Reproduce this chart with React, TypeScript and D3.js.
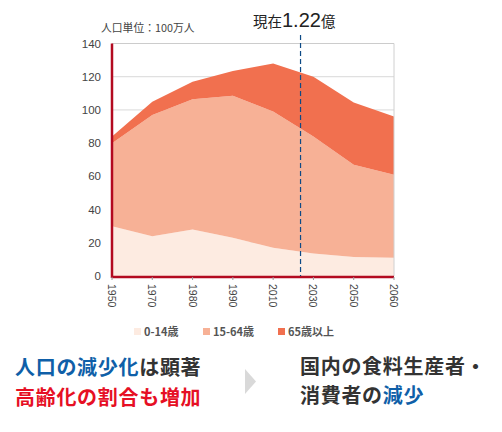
import React from 'react';
import * as d3 from 'd3';

const years = ['1950', '1970', '1980', '1990', '2010', '2030', '2050', '2060'];
const young = [30, 24, 28, 23, 17, 13.5, 11.5, 11];
const working = [50, 73, 78.5, 85.5, 82, 70.5, 55.5, 50];
const old = [4, 8, 10.5, 15, 29, 36, 37.5, 35];
const yTicks = [0, 20, 40, 60, 80, 100, 120, 140];
const seriesKeys = ['young', 'working', 'old'];
const seriesLabels = ['0-14歳', '15-64歳', '65歳以上'];
const seriesColors = ['#fdebe1', '#f7b196', '#f1704f'];
const nowPosition = 4.68; // between 2010 and 2030

const W = 502;
const H = 432;
const margin = { top: 43.5, right: 108, bottom: 156, left: 112 };
const latin = '"Liberation Sans", Arial, sans-serif';
const jp = '"Noto Sans CJK JP", sans-serif';

export default function App() {
  const x = d3.scalePoint<string>().domain(years).range([margin.left, W - margin.right]);
  const xIndex = d3.scaleLinear().domain([0, years.length - 1]).range([margin.left, W - margin.right]);
  const y = d3.scaleLinear().domain([0, 140]).range([H - margin.bottom, margin.top]);

  const rows = years.map((year, i) => ({ year, young: young[i], working: working[i], old: old[i] }));
  const stacked = d3.stack<any>().keys(seriesKeys)(rows);
  const area = d3.area<any>()
    .x(d => x(d.data.year)!)
    .y0(d => y(d[0]))
    .y1(d => y(d[1]));

  const x0 = margin.left;
  const x1 = W - margin.right;
  const y0 = H - margin.bottom;
  const nowX = xIndex(nowPosition);

  const legendX = [134, 203, 278];

  return (
    <svg width={W} height={H} style={{ position: 'absolute', left: 0, top: 0, background: '#fff' }}>
      {yTicks.map(t => (
        <line key={t} x1={x0} x2={x1} y1={y(t)} y2={y(t)} stroke="#d9d9d9" strokeWidth={1} />
      ))}
      {stacked.map((s, i) => (
        <path key={s.key} d={area(s) ?? ''} fill={seriesColors[i]} />
      ))}
      <line x1={x1} x2={x1} y1={margin.top} y2={y0} stroke="#d0d0d0" strokeWidth={1} />
      <line x1={x0} x2={x1} y1={margin.top} y2={margin.top} stroke="#cccccc" strokeWidth={1} />

      {/* red axes */}
      <line x1={x0} x2={x0} y1={margin.top} y2={y0 + 2} stroke="#b30a20" strokeWidth={2.5} />
      <line x1={x0} x2={x1} y1={y0 + 1} y2={y0 + 1} stroke="#b30a20" strokeWidth={2.5} />

      {yTicks.map(t => (
        <text key={t} x={101} y={y(t) + 4} textAnchor="end" fontFamily={latin} fontSize={11.5} fill="#444">{t}</text>
      ))}
      {years.map(yr => (
        <g key={yr}>
          <line x1={x(yr)} x2={x(yr)} y1={y0 + 1} y2={y0 + 4} stroke="#999" strokeWidth={1} />
          <text
            transform={`translate(${x(yr)! - 4},${y0 + 8}) rotate(90)`}
            fontFamily={latin}
            fontSize={10.5}
            fill="#444"
          >{yr}</text>
        </g>
      ))}

      <line x1={nowX} x2={nowX} y1={35} y2={y0} stroke="#0d4a86" strokeWidth={1.2} strokeDasharray="5,3" />

      <text x={101} y={32} fontFamily={jp} fontSize={10.8} fill="#444">人口単位：100万人</text>
      <text x={253} y={26.5} fontFamily={jp} fontSize={14.5} fill="#222">
        現在<tspan fontFamily={latin} fontSize={20}>1.22</tspan>億
      </text>

      {seriesLabels.map((label, i) => (
        <g key={label}>
          <rect x={legendX[i]} y={328} width={7} height={7} fill={seriesColors[i]} />
          <text x={legendX[i] + 10} y={336} fontFamily={jp} fontWeight={700} fontSize={11} fill="#555">{label}</text>
        </g>
      ))}

      <text x={15} y={375} fontFamily={jp} fontWeight={700} fontSize={20} letterSpacing={0.7} fill="#333">
        <tspan fill="#0f5fa8">人口の減少化</tspan>は顕著
      </text>
      <text x={15} y={405} fontFamily={jp} fontWeight={700} fontSize={20} letterSpacing={0.7} fill="#e60f24">高齢化の割合も増加</text>
      <path d="M245,369 L256,381.5 L245,394 Z" fill="#d9d9d9" />
      <text x={300} y={374} fontFamily={jp} fontWeight={700} fontSize={20} letterSpacing={0.7} fill="#333">国内の食料生産者・</text>
      <text x={300} y={403} fontFamily={jp} fontWeight={700} fontSize={20} letterSpacing={0.7} fill="#333">
        消費者の<tspan fill="#0f5fa8">減少</tspan>
      </text>
    </svg>
  );
}
